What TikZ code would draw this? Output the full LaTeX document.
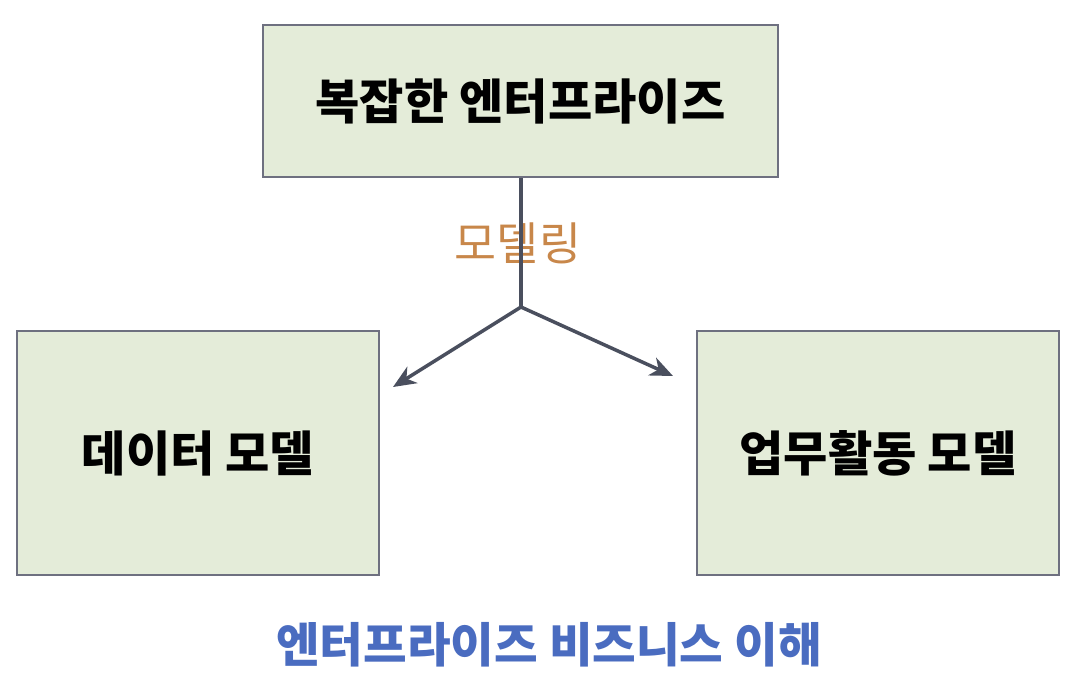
\documentclass[tikz,border=0pt]{standalone}
\usepackage{fontspec}
\setmainfont{Noto Sans CJK KR}
\usetikzlibrary{arrows.meta}
\definecolor{boxfill}{HTML}{E4ECD9}
\definecolor{boxline}{HTML}{6E7080}
\definecolor{linkcol}{HTML}{4A4F5E}
\definecolor{labelcol}{HTML}{C8874A}
\definecolor{titlecol}{HTML}{4A6CC0}
\tikzset{
  block/.style={draw=boxline, line width=1.2pt, fill=boxfill, font=\fontsize{27.4}{32}\selectfont\bfseries, inner sep=0pt},
  link/.style={draw=linkcol, line width=2pt},
}
\begin{document}
\begin{tikzpicture}[x=0.02cm, y=-0.02cm]
  \useasboundingbox (0,0) rectangle (1075,684);
  \node[block, minimum width=10.3cm, minimum height=3.04cm] (top) at (520.5,101) {복잡한 엔터프라이즈};
  \node[block, minimum width=7.24cm, minimum height=4.88cm] (data) at (198,453) {데이터 모델};
  \node[block, minimum width=7.24cm, minimum height=4.88cm] (work) at (878,453) {업무활동 모델};
  \node[text=labelcol, font=\fontsize{26}{30}\selectfont] (model) at (518,243) {모델링};
  \node[text=titlecol, font=\fontsize{27}{32}\selectfont\bfseries] (title) at (549,645) {엔터프라이즈 비즈니스 이해};
  \coordinate (split) at (521,307);
  \coordinate (toleft) at (393,387);
  \coordinate (toright) at (673,376);
  \begin{scope}[link]
    \draw (top.south -| split) -- (split);
    \draw[-{Stealth[length=13pt, width=11pt, inset=4pt]}] (split) -- (toleft);
    \draw[-{Stealth[length=13pt, width=11pt, inset=4pt]}] (split) -- (toright);
  \end{scope}
\end{tikzpicture}
\end{document}
